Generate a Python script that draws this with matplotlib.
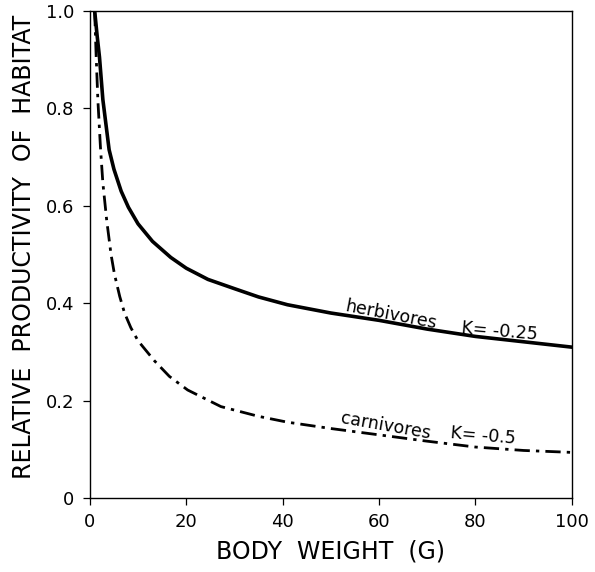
import matplotlib
matplotlib.use("Agg")
import matplotlib.pyplot as plt

# values
herb_x = [1, 1.5, 2, 2.7, 4, 5, 6.5, 8, 10, 13, 16.8, 20, 24.5, 30, 35, 41,
          50, 60, 70, 80, 90, 100]
herb_y = [1.0, 0.95, 0.905, 0.818, 0.715, 0.675, 0.63, 0.597, 0.563, 0.527, 0.494,
          0.472, 0.449, 0.43, 0.413, 0.397, 0.38, 0.365, 0.347, 0.332, 0.321, 0.31]

carn_x = [1, 1.3, 1.66, 2.2, 2.7, 3.5, 4.4, 5.1, 6.2, 7.2, 8.5, 10, 13.4, 16.5,
          20.3, 27.2, 35, 41, 50, 60, 70, 80, 90, 100]
carn_y = [1.0, 0.91, 0.818, 0.72, 0.647, 0.57, 0.50, 0.46, 0.414, 0.38, 0.35, 0.323,
          0.282, 0.25, 0.222, 0.188, 0.168, 0.156, 0.143, 0.13, 0.117, 0.105,
          0.098, 0.094]

x_ticks = [0, 20, 40, 60, 80, 100]
y_ticks = [0, 0.2, 0.4, 0.6, 0.8, 1.0]
y_labels = ["0", "0.2", "0.4", "0.6", "0.8", "1.0"]

fig = plt.figure(figsize=(5.95, 5.72), dpi=100)
ax = fig.add_axes([0.151, 0.129, 0.81, 0.852])

ax.plot(herb_x, herb_y, color="black", lw=2.6, solid_joinstyle="round")
ax.plot(carn_x, carn_y, color="black", lw=2.0, linestyle=(0, (5.5, 2.2, 1.2, 2.2)))

ax.set_xlim(0, 100)
ax.set_ylim(0, 1.0)
ax.set_xticks(x_ticks)
ax.set_yticks(y_ticks)
ax.set_yticklabels(y_labels)
ax.tick_params(direction="out", length=5, width=0.9, labelsize=13, pad=6)
for s in ax.spines.values():
    s.set_linewidth(1.0)

ax.set_xlabel("BODY  WEIGHT  (G)", fontsize=17, labelpad=6)
ax.set_ylabel("RELATIVE  PRODUCTIVITY  OF  HABITAT", fontsize=17, labelpad=9)
ax.yaxis.set_label_coords(-0.112, 0.515)

ax.text(62.4, 0.376, "herbivores", fontsize=12.5, rotation=-11,
        ha="center", va="center", rotation_mode="anchor")
ax.text(84.9, 0.343, "K= -0.25", fontsize=12.5, rotation=-5,
        ha="center", va="center", rotation_mode="anchor")
ax.text(61.4, 0.148, "carnivores", fontsize=12.5, rotation=-10,
        ha="center", va="center", rotation_mode="anchor")
ax.text(81.6, 0.127, "K= -0.5", fontsize=12.5, rotation=-5,
        ha="center", va="center", rotation_mode="anchor")

fig.savefig("out.png", dpi=100)
